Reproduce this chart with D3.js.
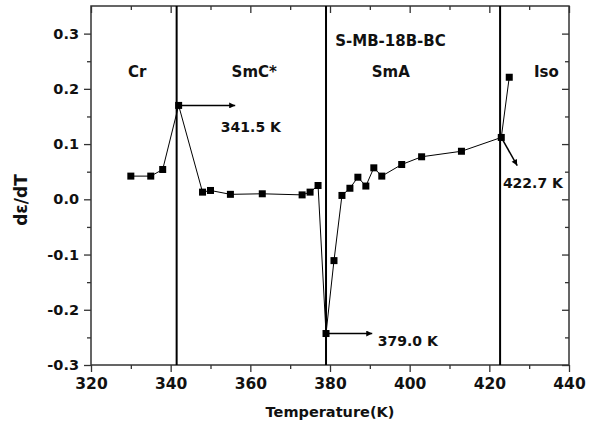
<!DOCTYPE html>
<html>
<head>
<meta charset="utf-8">
<script src="https://cdn.jsdelivr.net/npm/d3@7"></script>
<style>
  body { margin: 0; background: #fff; }
  svg { display: block; font-family: "DejaVu Sans", sans-serif; font-weight: bold; }
</style>
</head>
<body>
<svg width="598" height="425"></svg>
<script>
// measured dε/dT vs temperature
var temps = [330, 335, 338, 342, 348, 350, 355, 363, 373, 375, 377, 379, 381, 383, 385, 387, 389, 391, 393, 398, 403, 413, 423, 425];
var values = [0.042, 0.042, 0.054, 0.170, 0.013, 0.016, 0.009, 0.010, 0.008, 0.013, 0.025, -0.243, -0.111, 0.007, 0.020, 0.040, 0.024, 0.057, 0.042, 0.063, 0.077, 0.087, 0.112, 0.221];

// phase transition temperatures
var transitions = [341.5, 379.0, 422.7];

// phase labels (text, T, value)
var phaseNames = ["Cr", "SmC*", "SmA", "Iso", "S-MB-18B-BC"];
var phaseT = [329.3, 355.3, 390.5, 431.2, 381.3];
var phaseV = [0.222, 0.222, 0.222, 0.222, 0.278];

// arrows: from point to tip, then label
var arrowFromT = [342, 379, 423];
var arrowFromV = [0.170, -0.243, 0.112];
var arrowToT = [356.2, 390.6, 427.0];
var arrowToV = [0.170, -0.243, 0.061];
var arrowLabels = ["341.5 K", "379.0 K", "422.7 K"];
var labelT = [352.6, 392.0, 423.4];
var labelV = [0.121, -0.265, 0.021];

var xTicks = [320, 340, 360, 380, 400, 420, 440];
var yTicks = [-0.3, -0.2, -0.1, 0.0, 0.1, 0.2, 0.3];

var svg = d3.select("svg"),
    margin = {top: 6, right: 29, bottom: 60, left: 91},
    width = 598 - margin.left - margin.right,
    height = 425 - margin.top - margin.bottom,
    g = svg.append("g").attr("transform", "translate(" + margin.left + "," + margin.top + ")");

var x = d3.scaleLinear().domain([320, 440]).range([0, width]),
    y = d3.scaleLinear().domain([-0.3, 0.35]).range([height, 0]);

var axisColor = "#333";

function styleAxis(size) {
    return function(sel) {
        sel.select(".domain").remove();
        sel.selectAll("line").attr("stroke", axisColor).attr("stroke-width", 1.3);
        sel.selectAll("text").attr("fill", "#111")
            .style("font-family", "'DejaVu Sans', sans-serif")
            .style("font-size", size + "px").style("font-weight", "bold");
    };
}

// plain hyphen for negatives, like the original
var yFormat = function(d) { return d3.format(".1f")(d).replace("\u2212", "-"); };

// minor ticks
var xMinor = d3.range(330, 440, 20);
var yMinor = d3.range(-0.25, 0.35, 0.1);

// bottom axis (ticks outward)
g.append("g")
    .attr("transform", "translate(0," + height + ")")
    .call(d3.axisBottom(x).tickValues(xTicks).tickSize(7).tickPadding(6).tickFormat(d3.format("d")))
    .call(styleAxis(15.5));
g.append("g")
    .attr("transform", "translate(0," + height + ")")
    .call(d3.axisBottom(x).tickValues(xMinor).tickSize(4).tickFormat(""))
    .call(styleAxis(15));

// top axis (ticks inward)
g.append("g")
    .call(d3.axisBottom(x).tickValues(xTicks).tickSize(7).tickFormat(""))
    .call(styleAxis(15));
g.append("g")
    .call(d3.axisBottom(x).tickValues(xMinor).tickSize(4).tickFormat(""))
    .call(styleAxis(15));

// left axis (ticks outward)
g.append("g")
    .call(d3.axisLeft(y).tickValues(yTicks).tickSize(7).tickPadding(5).tickFormat(yFormat))
    .call(styleAxis(14.5));
g.append("g")
    .call(d3.axisLeft(y).tickValues(yMinor).tickSize(4).tickFormat(""))
    .call(styleAxis(14.5));

// right axis (ticks inward)
g.append("g")
    .attr("transform", "translate(" + width + ",0)")
    .call(d3.axisLeft(y).tickValues(yTicks).tickSize(7).tickFormat(""))
    .call(styleAxis(14.5));
g.append("g")
    .attr("transform", "translate(" + width + ",0)")
    .call(d3.axisLeft(y).tickValues(yMinor).tickSize(4).tickFormat(""))
    .call(styleAxis(14.5));

// frame
g.append("rect")
    .attr("width", width)
    .attr("height", height)
    .attr("fill", "none")
    .attr("stroke", axisColor)
    .attr("stroke-width", 1.5);

// transition lines
g.selectAll(".trans")
    .data(transitions)
    .enter().append("line")
    .attr("class", "trans")
    .attr("x1", function(d) { return x(d); })
    .attr("x2", function(d) { return x(d); })
    .attr("y1", 0)
    .attr("y2", height)
    .attr("stroke", "#000")
    .attr("stroke-width", 2);

// data line + squares
var pts = temps.map(function(t, i) { return {t: t, v: values[i]}; });

var line = d3.line()
    .x(function(d) { return x(d.t); })
    .y(function(d) { return y(d.v); });

g.append("path")
    .datum(pts)
    .attr("d", line)
    .attr("fill", "none")
    .attr("stroke", "#000")
    .attr("stroke-width", 1);

g.selectAll(".dot")
    .data(pts)
    .enter().append("rect")
    .attr("class", "dot")
    .attr("x", function(d) { return x(d.t) - 3.5; })
    .attr("y", function(d) { return y(d.v) - 3.5; })
    .attr("width", 7)
    .attr("height", 7)
    .attr("fill", "#000");

// arrows
svg.append("defs").append("marker")
    .attr("id", "head")
    .attr("viewBox", "0 0 10 10")
    .attr("refX", 10)
    .attr("refY", 5)
    .attr("markerWidth", 10)
    .attr("markerHeight", 6)
    .attr("markerUnits", "userSpaceOnUse")
    .attr("orient", "auto")
  .append("path")
    .attr("d", "M0,0L10,5L0,10Z")
    .attr("fill", "#000");

arrowLabels.forEach(function(lbl, i) {
    g.append("line")
        .attr("x1", x(arrowFromT[i]))
        .attr("y1", y(arrowFromV[i]))
        .attr("x2", x(arrowToT[i]))
        .attr("y2", y(arrowToV[i]))
        .attr("stroke", "#000")
        .attr("stroke-width", 1.5)
        .attr("marker-end", "url(#head)");
    g.append("text")
        .attr("x", x(labelT[i]))
        .attr("y", y(labelV[i]))
        .style("font-size", "14px")
        .attr("fill", "#111")
        .text(lbl);
});

// phase labels
phaseNames.forEach(function(name, i) {
    g.append("text")
        .attr("x", x(phaseT[i]))
        .attr("y", y(phaseV[i]))
        .style("font-size", "15px")
        .attr("fill", "#111")
        .text(name);
});

// axis titles
svg.append("text")
    .attr("x", margin.left + width / 2)
    .attr("y", 417)
    .attr("text-anchor", "middle")
    .style("font-size", "14.5px")
    .attr("fill", "#111")
    .text("Temperature(K)");

svg.append("text")
    .attr("transform", "translate(27,200) rotate(-90)")
    .attr("text-anchor", "middle")
    .style("font-size", "17px")
    .attr("fill", "#111")
    .text("dε/dT");
</script>
</body>
</html>
